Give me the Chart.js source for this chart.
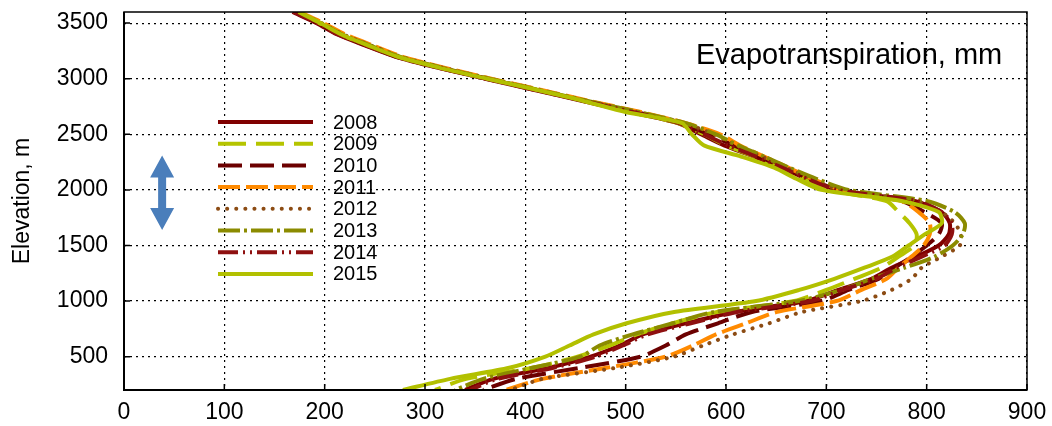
<!DOCTYPE html>
<html>
<head>
<meta charset="utf-8">
<script src="https://cdn.jsdelivr.net/npm/chart.js@4.4.1/dist/chart.umd.min.js"></script>
<style>
  html, body { margin: 0; padding: 0; background: #fff; }
  #wrap { width: 1052px; height: 426px; }
</style>
</head>
<body>
<div id="wrap"><canvas id="etChart"></canvas></div>
<script>
// elevation levels (m), top to bottom
const elevations = [3600, 3500, 3400, 3300, 3200, 3100, 3000, 2900, 2800, 2700, 2600, 2500,
  2400, 2300, 2200, 2100, 2000, 1900, 1800, 1700, 1600, 1500, 1400, 1300, 1200, 1100,
  1000, 900, 800, 700, 600, 500, 400, 300, 200];

const years = ['2008', '2009', '2010', '2011', '2012', '2013', '2014', '2015'];

// evapotranspiration (mm) at each elevation
const et2008 = [168, 192, 212, 240, 270, 312, 360, 408, 457, 505, 552, 575, 598, 628, 655, 680, 710, 788,
  815, 823, 822, 812, 790, 765, 745, 712, 680, 607, 560, 517, 494, 465, 424, 368, 340];
const et2009 = [172, 195, 215, 243, 272, 315, 363, 412, 460, 505, 552, 578, 600, 628, 652, 676, 703, 760,
  772, 783, 790, 788, 772, 755, 728, 700, 668, 590, 547, 511, 484, 452, 407, 341, 310];
const et2010 = [170, 194, 214, 242, 271, 314, 362, 411, 459, 510, 556, 582, 608, 633, 658, 683, 712, 775,
  798, 815, 812, 800, 785, 768, 752, 722, 695, 625, 592, 560, 540, 515, 455, 391, 358];
const et2011 = [175, 199, 220, 248, 277, 319, 366, 415, 464, 515, 560, 594, 614, 638, 662, 686, 715, 775,
  792, 803, 803, 797, 785, 772, 760, 735, 710, 650, 620, 590, 567, 540, 481, 417, 380];
const et2012 = [173, 197, 218, 246, 275, 317, 365, 414, 462, 512, 558, 588, 610, 636, 660, 685, 715, 790,
  815, 828, 834, 833, 815, 795, 785, 765, 735, 675, 643, 607, 577, 548, 491, 417, 385];
const et2013 = [172, 196, 217, 245, 274, 316, 364, 413, 462, 513, 560, 590, 612, 638, 663, 690, 722, 800,
  828, 838, 836, 826, 808, 778, 745, 715, 672, 587, 547, 507, 474, 455, 407, 358, 330];
const et2014 = [169, 193, 213, 241, 271, 313, 361, 409, 458, 507, 553, 578, 602, 630, 656, 681, 711, 790,
  815, 825, 825, 818, 795, 770, 750, 716, 685, 610, 565, 522, 497, 470, 428, 372, 345];
const et2015 = [174, 196, 216, 243, 272, 314, 362, 411, 458, 500, 556, 566, 578, 615, 648, 670, 695, 775,
  812, 815, 798, 782, 766, 738, 708, 673, 630, 547, 501, 468, 444, 420, 384, 325, 278];

const seriesValues = [et2008, et2009, et2010, et2011, et2012, et2013, et2014, et2015];

const xTicks = [0, 100, 200, 300, 400, 500, 600, 700, 800, 900];
const yTicks = [500, 1000, 1500, 2000, 2500, 3000, 3500];

// line styles
const colors = ['#800000', '#b5c400', '#6b0000', '#ff8a00', '#8c4c14', '#8b8b00', '#8e1010', '#b2c000'];
const dashes = [[], [28, 10], [24, 8], [22, 6], [0.1, 9], [22, 4, 3, 4], [20, 5, 2, 5, 2, 5], []];

const FONT = "'Liberation Sans', Arial, sans-serif";

const datasets = years.map((yr, i) => ({
  label: yr,
  data: elevations.map((e, k) => ({ x: seriesValues[i][k], y: e })),
  showLine: true,
  borderColor: colors[i],
  borderWidth: 4,
  borderDash: dashes[i],
  borderCapStyle: i === 4 ? 'round' : 'butt',
  pointRadius: 0,
  tension: 0.25,
  order: years.length - i
}));

const decor = {
  id: 'decor',
  afterDraw(chart) {
    const { ctx, chartArea: a, scales: { x, y } } = chart;
    ctx.save();

    // frame
    ctx.setLineDash([]);
    ctx.strokeStyle = '#000';
    ctx.lineWidth = 1.5;
    ctx.strokeRect(a.left, a.top, a.right - a.left, a.bottom - a.top);
    ctx.lineWidth = 2;
    ctx.beginPath();
    ctx.moveTo(a.left, a.top);
    ctx.lineTo(a.left, a.bottom);
    ctx.lineTo(a.right, a.bottom);
    ctx.stroke();

    // tick marks inside the plot
    ctx.lineWidth = 1.5;
    ctx.beginPath();
    xTicks.forEach(v => {
      const px = x.getPixelForValue(v);
      ctx.moveTo(px, a.bottom);
      ctx.lineTo(px, a.bottom - 6);
    });
    yTicks.forEach(v => {
      const py = y.getPixelForValue(v);
      ctx.moveTo(a.left, py);
      ctx.lineTo(a.left + 6, py);
    });
    ctx.stroke();

    // legend
    ctx.font = '20px ' + FONT;
    ctx.textBaseline = 'middle';
    ctx.fillStyle = '#000';
    chart.data.datasets.forEach((ds, i) => {
      const ly = 122 + i * 21.7;
      ctx.beginPath();
      ctx.setLineDash(ds.borderDash);
      ctx.lineCap = ds.borderCapStyle;
      ctx.strokeStyle = ds.borderColor;
      ctx.lineWidth = 4;
      ctx.moveTo(218, ly);
      ctx.lineTo(313, ly);
      ctx.stroke();
      ctx.fillText(ds.label, 333, ly + 1);
    });
    ctx.setLineDash([]);
    ctx.lineCap = 'butt';

    // label inside the plot
    ctx.font = '29px ' + FONT;
    ctx.textBaseline = 'alphabetic';
    ctx.fillText('Evapotranspiration, mm', 696, 64);

    // blue double arrow
    const ax = x.getPixelForValue(38);
    const top = y.getPixelForValue(2310);
    const bot = y.getPixelForValue(1640);
    const head = 22, hw = 12, sw = 4;
    ctx.fillStyle = '#4a7ebb';
    ctx.beginPath();
    ctx.moveTo(ax, top);
    ctx.lineTo(ax + hw, top + head);
    ctx.lineTo(ax + sw, top + head);
    ctx.lineTo(ax + sw, bot - head);
    ctx.lineTo(ax + hw, bot - head);
    ctx.lineTo(ax, bot);
    ctx.lineTo(ax - hw, bot - head);
    ctx.lineTo(ax - sw, bot - head);
    ctx.lineTo(ax - sw, top + head);
    ctx.lineTo(ax - hw, top + head);
    ctx.closePath();
    ctx.fill();

    ctx.restore();
  }
};

new Chart(document.getElementById('etChart'), {
  type: 'scatter',
  data: { datasets },
  plugins: [decor],
  options: {
    responsive: true,
    maintainAspectRatio: false,
    animation: false,
    layout: { padding: { left: 0, top: 12, right: 25, bottom: 0 } },
    plugins: {
      legend: { display: false },
      tooltip: { enabled: false }
    },
    scales: {
      x: {
        type: 'linear',
        min: 0,
        max: 900,
        afterBuildTicks: s => { s.ticks = xTicks.map(v => ({ value: v })); },
        afterFit: s => { s.height = 36; s.paddingLeft = 0; s.paddingRight = 0; },
        border: { display: false, dash: [2, 4] },
        grid: { color: '#000', lineWidth: 1.2, drawTicks: false },
        ticks: { color: '#000', padding: 9, font: { family: FONT, size: 23 }, callback: v => String(v) }
      },
      y: {
        type: 'linear',
        min: 200,
        max: 3600,
        afterBuildTicks: s => { s.ticks = yTicks.map(v => ({ value: v })); },
        afterFit: s => { s.width = 124; s.paddingTop = 0; s.paddingBottom = 0; },
        border: { display: false, dash: [2, 4] },
        grid: { color: '#000', lineWidth: 1.2, drawTicks: false },
        ticks: { color: '#000', padding: 16, font: { family: FONT, size: 23 }, callback: v => String(v) },
        title: {
          display: true,
          text: 'Elevation, m',
          color: '#000',
          padding: { top: 9, bottom: 0 },
          font: { family: FONT, size: 23 }
        }
      }
    }
  }
});
</script>
</body>
</html>
